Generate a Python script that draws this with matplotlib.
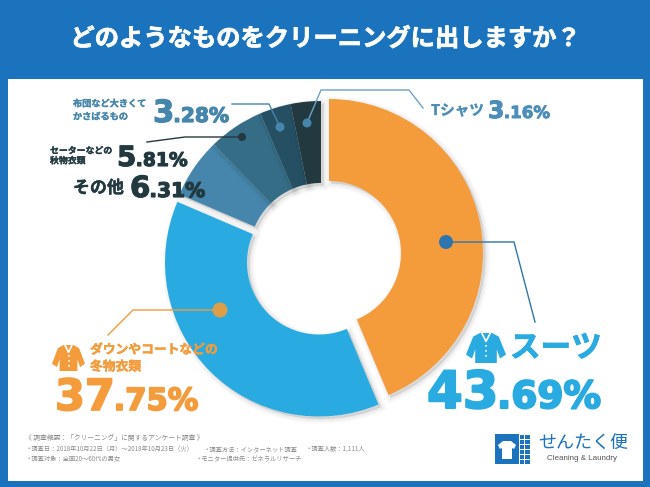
import matplotlib
matplotlib.use("Agg")
from matplotlib import pyplot as plt
from matplotlib import patheffects as pe
from matplotlib.patches import Rectangle, Wedge, Circle, Polygon

plt.rcParams["font.family"] = ["Noto Sans CJK JP", "DejaVu Sans"]

# data
categories = ["スーツ", "冬物衣類", "その他", "秋物衣類", "かさばるもの", "Tシャツ"]
shares = [43.69, 37.75, 6.31, 5.81, 3.28, 3.16]
colors = ["#F49B3B", "#29ABE2", "#4686AC", "#356D86", "#254F63", "#22393F"]
footer_lines = [
    ("《 調査概要：「クリーニング」に関するアンケート調査 》", 25, 438, 4.9),
    ("・調査日：2018年10月22日（月）〜2018年10月23日（火）", 26, 449, 4.5),
    ("・調査方法：インターネット調査", 204, 449, 4.5),
    ("・調査人数：1,111人", 305, 449, 4.5),
    ("・調査対象：全国20〜60代の男女", 26, 459, 4.5),
    ("・モニター提供先：ゼネラルリサーチ", 195, 459, 4.5),
]

BLUE = "#1A73BC"
ORANGE = colors[0]
SKY = colors[1]
STEEL = "#4686AC"
DARK = "#22393F"
H = 487


def Y(py):
    return H - py


fig = plt.figure(figsize=(6.5, 4.87), dpi=100, facecolor=BLUE)
ax = fig.add_axes([0, 0, 1, 1])

# pie, then each slice is moved to its own centre
wedges, _ = ax.pie(shares, radius=154, startangle=90, counterclock=False, center=(325, Y(256)),
                   wedgeprops={"width": 82})
ax.set_xlim(0, 650)
ax.set_ylim(0, H)
ax.set_aspect("auto")
ax.axis("off")

ax.add_patch(Rectangle((8, Y(481)), 635, 402, fc="white", ec="none", zorder=0))

centers = [(329, Y(253)), (319, Y(262.5)), (321, Y(255)), (321, Y(255)), (321, Y(255)), (321, Y(255))]
for i, (w, c, col) in enumerate(zip(wedges, centers, colors)):
    w.set_center(c)
    w.set_facecolor(col)
    w.set_edgecolor("none")
    w.set_zorder(2 * i + 2)
    for lw in [0.5, 2, 3.5, 5, 7]:
        ax.add_patch(Wedge((c[0] + 2.5, c[1] - 2.5), w.r, w.theta1, w.theta2, width=w.width,
                           fc=(0, 0, 0, 0.02), ec=(0, 0, 0, 0.02), lw=lw, zorder=2 * i + 1))


def leader(points, color, dot, dot_r, dot_color, lw=1.0):
    xs = [p[0] for p in points]
    ys = [Y(p[1]) for p in points]
    ax.plot(xs, ys, color=color, lw=lw, zorder=20, solid_joinstyle="miter")
    ax.add_patch(Circle((dot[0], Y(dot[1])), dot_r, fc=dot_color, ec="none", zorder=21))


leader([(446, 242), (514, 242), (535, 322)], "#2E75B0", (446, 242), 7, "#2E75B0")
leader([(220, 310), (133, 310), (108, 335)], ORANGE, (220, 310), 7.5, "#DE9E48")
leader([(307, 123), (321, 90), (409, 90), (423, 108)], "#6AA3C8", (307, 123), 4.5, STEEL)
leader([(280, 127), (269, 104), (232, 104)], STEEL, (280, 127), 4.5, STEEL)
leader([(242, 137), (185, 137), (147, 142)], DARK, (242, 137), 4, DARK)


def jp(x, y, s, size, color, weight="bold", ha="left", stroke=0.0):
    t = ax.text(x, Y(y), s, fontsize=size, color=color, fontweight=weight, ha=ha, va="center", zorder=30)
    if stroke:
        t.set_path_effects([pe.withStroke(linewidth=stroke, foreground=color)])
    return t


def percent(x, base, value, n_big, big, small, color):
    # big integer part followed by smaller rest, on one baseline
    s = f"{value:.2f}%"
    r = fig.canvas.get_renderer()
    heavy = [pe.withStroke(linewidth=big * 0.04, foreground=color)]
    t = ax.text(x, Y(base), s[:n_big], fontsize=big, color=color, family="DejaVu Sans",
                fontweight="bold", va="baseline", zorder=30, path_effects=heavy)
    bb = t.get_window_extent(r)
    ax.text(bb.x1 * 650 / fig.bbox.width - big * 0.04, Y(base), s[n_big:], fontsize=small, color=color,
            family="DejaVu Sans", fontweight="bold", va="baseline", zorder=30, path_effects=heavy)


jp(325, 39, "どのようなものをクリーニングに出しますか？", 17.5, "white", ha="center", stroke=0.5)

jp(73, 104, "布団など大きくて", 6.6, STEEL, stroke=0.2)
jp(73, 117, "かさばるもの", 6.6, STEEL, stroke=0.2)
percent(153, 122, shares[4], 1, 22, 14.5, STEEL)

jp(50, 151, "セーターなどの", 6.4, DARK, stroke=0.2)
jp(50, 161, "秋物衣類", 6.4, DARK, stroke=0.2)
percent(117, 166, shares[3], 1, 20, 13.5, DARK)

jp(73, 188, "その他", 12.2, DARK, stroke=0.3)
percent(130, 197, shares[2], 1, 21, 14.5, DARK)

jp(431, 110, "Tシャツ", 10.5, "#4C8DBA", stroke=0.2)
percent(488, 118, shares[5], 1, 17, 12, "#4C8DBA")

jp(510, 348, categories[0], 22, SKY, stroke=0.6)
percent(427, 408, shares[0], 2, 37, 27, SKY)

jp(90, 350, "ダウンやコートなどの", 9.2, ORANGE, stroke=0.3)
jp(90, 367, categories[1], 9.2, ORANGE, stroke=0.3)
percent(55, 410, shares[1], 2, 31, 22, ORANGE)

for s, x, y, size in footer_lines:
    jp(x, y, s, size, "#8A8A8A", weight="normal")


def garment(x, y, w, h, color):
    # simple jacket shape with collar
    shape = [(0.35, 0), (0.65, 0), (0.82, 0.12), (1, 0.72), (0.85, 0.85), (0.77, 0.55), (0.77, 1),
             (0.23, 1), (0.23, 0.55), (0.15, 0.85), (0, 0.72), (0.18, 0.12)]
    ax.add_patch(Polygon([(x + a * w, Y(y + b * h)) for a, b in shape], fc=color, ec="none", zorder=30))
    collar = [(0.40, 0.02), (0.5, 0.28), (0.6, 0.02)]
    ax.plot([x + a * w for a, b in collar], [Y(y + b * h) for a, b in collar], color="white", lw=1.2, zorder=31)
    ax.plot([x + 0.5 * w] * 2, [Y(y + 0.4 * h), Y(y + 0.9 * h)], color="white", lw=1.2, ls=(0, (1, 2)), zorder=31)


garment(466, 333, 40, 30, SKY)
garment(52, 345, 33, 26, ORANGE)

# logo
ax.add_patch(Rectangle((495, Y(464)), 24, 30, fc=BLUE, ec="none", zorder=30))
for row in range(6):
    for col in range(2):
        ax.add_patch(Rectangle((520 + col * 5.2, Y(439 + row * 5)), 4.4, 4.2, fc=BLUE, ec="none", zorder=30))
tee = [(503, 441), (511, 441), (516, 445), (514, 449), (512, 448), (512, 459), (502, 459), (502, 448), (500, 449), (498, 445)]
ax.add_patch(Polygon([(a, Y(b)) for a, b in tee], fc="white", ec="none", zorder=31))
jp(583, 444, "せんたく便", 13, BLUE, weight="normal", ha="center")
ax.text(582, Y(459), "Cleaning & Laundry", fontsize=5.8, color="#555555", family="Liberation Sans",
        ha="center", va="center", zorder=30)

fig.savefig("out.png", dpi=100, facecolor=BLUE)
plt.close()
